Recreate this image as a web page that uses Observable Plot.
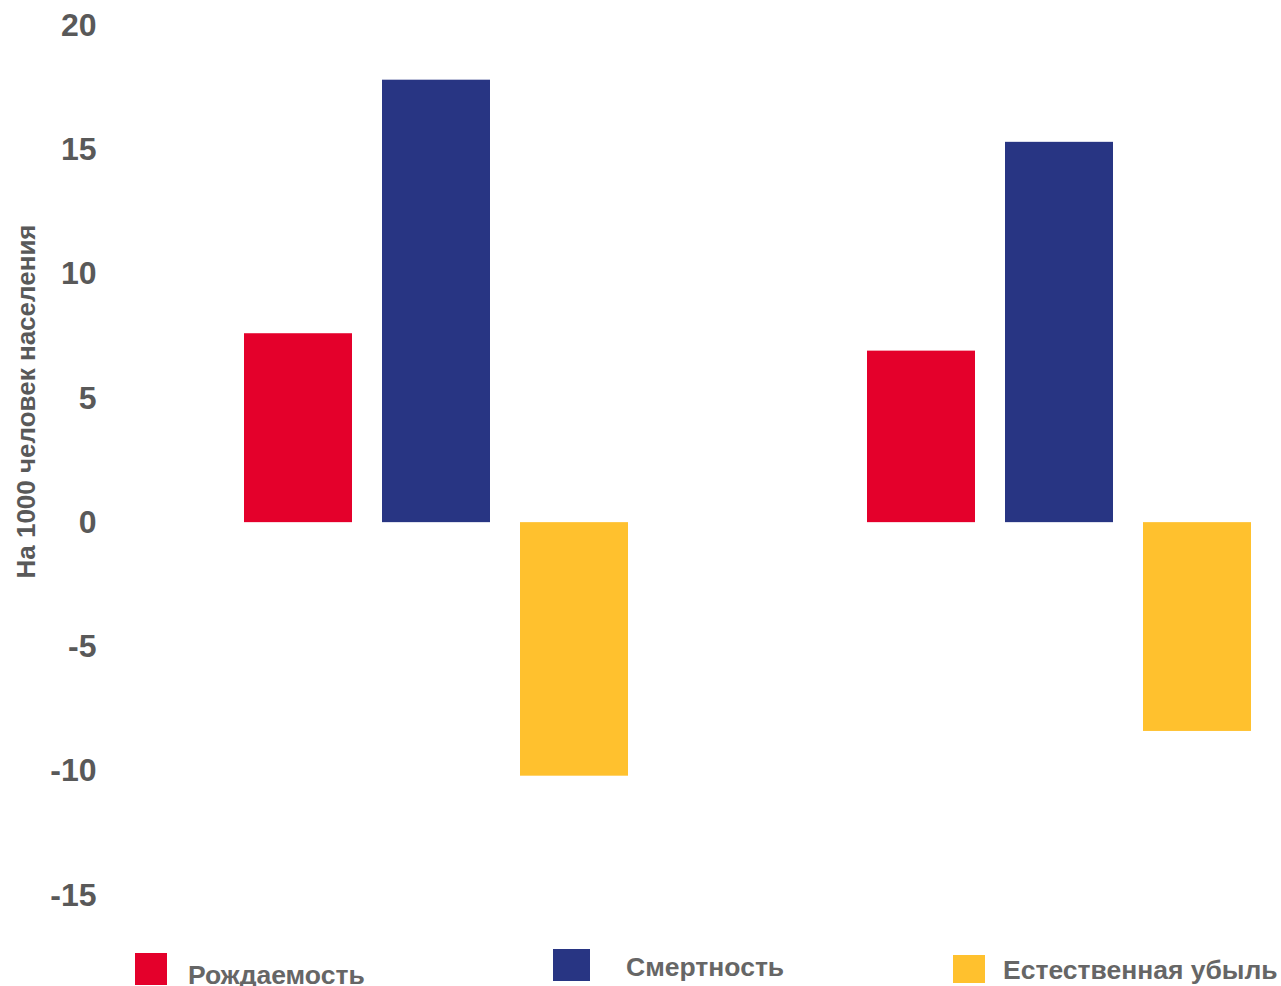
<!DOCTYPE html>
<html>
<head>
<meta charset="utf-8">
<script src="https://cdn.jsdelivr.net/npm/d3@7"></script>
<script src="https://cdn.jsdelivr.net/npm/@observablehq/plot@0.6"></script>
<style>
  html, body { margin: 0; padding: 0; background: #fff; }
  body { width: 1281px; height: 986px; overflow: hidden; font-family: "Liberation Sans", Arial, sans-serif; }
  #legend { position: relative; width: 1281px; height: 56px; }
  .sw { position: absolute; }
  .lab { position: absolute; font-weight: bold; font-size: 26.5px; color: #666; white-space: nowrap; line-height: 1; }
</style>
</head>
<body>
<div id="chart"></div>
<div id="legend"></div>
<script>
const groups = ["Период 1", "Период 2"];
const series = ["Рождаемость", "Смертность", "Естественная убыль"];
const colors = ["#E4002B", "#283583", "#FFC12E"];
const birth = [7.6, 6.9];
const death = [17.8, 15.3];
const natural = [-10.2, -8.4];
const yTicks = [-15, -10, -5, 0, 5, 10, 15, 20];
const yTitle = "На 1000 человек населения";

const values = [birth, death, natural];
const data = [];
groups.forEach((g, gi) => series.forEach((s, si) => data.push({group: g, series: s, value: values[si][gi]})));

const chart = Plot.plot({
  width: 1281,
  height: 930,
  marginTop: 25,
  marginBottom: 35,
  marginLeft: 243,
  marginRight: 29,
  style: {fontFamily: "'Liberation Sans', Arial, sans-serif", background: "#fff"},
  fx: {domain: groups, paddingInner: 0.383, paddingOuter: 0, axis: null},
  x: {domain: series, paddingInner: 0.22, paddingOuter: 0, axis: null},
  y: {domain: [-15, 20], axis: null},
  color: {domain: series, range: colors},
  marks: [
    Plot.barY(data, {fx: "group", x: "series", y1: 0, y2: "value", fill: "series"}),
    Plot.axisY({ticks: yTicks, tickSize: 0, tickPadding: 148, fontSize: 32, fontWeight: "bold", fill: "#595959", label: null, tickFormat: d => String(d)}),
    Plot.text([{g: groups[0], t: yTitle}], {fx: "g", text: "t", frameAnchor: "left", textAnchor: "middle", rotate: -90, dx: -218, dy: -59, fontSize: 26, fontWeight: "bold", fill: "#595959"})
  ]
});
document.getElementById("chart").appendChild(chart);

// legend
const legendPos = [
  {sx: 135, sy: 23, sw: 32, sh: 32, tx: 188, ty: 32},
  {sx: 553, sy: 19, sw: 37, sh: 32, tx: 626, ty: 24},
  {sx: 953, sy: 25, sw: 32, sh: 28, tx: 1003, ty: 27}
];
const legend = document.getElementById("legend");
series.forEach((s, i) => {
  const p = legendPos[i];
  const sw = document.createElement("div");
  sw.className = "sw";
  sw.style.left = p.sx + "px"; sw.style.top = p.sy + "px";
  sw.style.width = p.sw + "px"; sw.style.height = p.sh + "px";
  sw.style.background = colors[i];
  legend.appendChild(sw);
  const lab = document.createElement("div");
  lab.className = "lab";
  lab.style.left = p.tx + "px"; lab.style.top = p.ty + "px";
  lab.textContent = s;
  legend.appendChild(lab);
});
</script>
</body>
</html>
